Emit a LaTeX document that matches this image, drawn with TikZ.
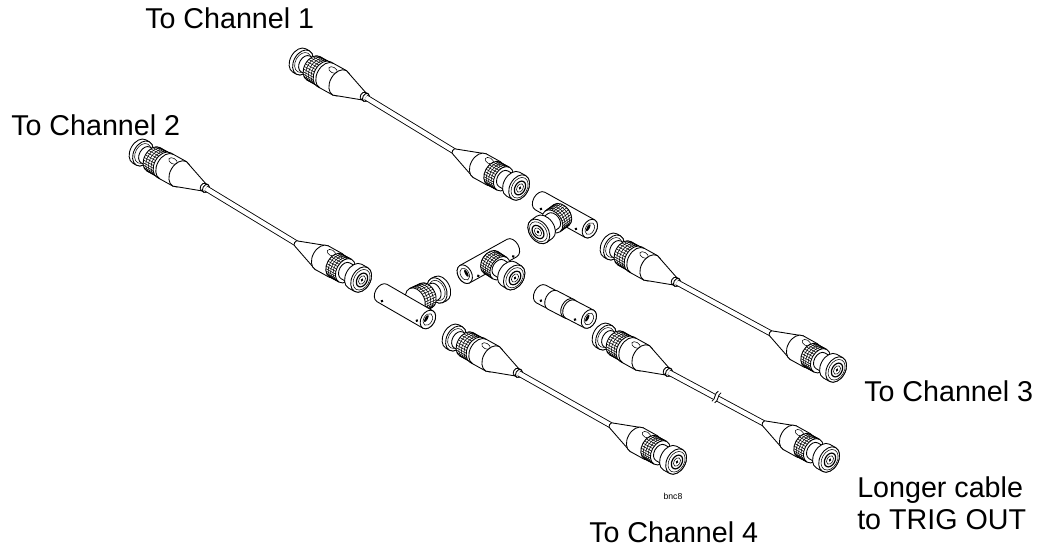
\documentclass[tikz,border=0pt]{standalone}
\usepackage{fontspec}
\setmainfont{Liberation Sans}
\tikzset{
  part/.style={draw=black,fill=white,line width=0.65pt,line join=round},
  fine/.style={draw=black,line width=0.4pt},
  lbl/.style={font=\fontsize{21.5}{26}\selectfont,inner sep=0pt,anchor=base west,align=left},
  coax/.style={draw=black,line width=0.65pt,double=white,double distance=3.3pt},
}
\newcommand\rr{.68}
% section of a cylinder or cone seen from the +x side
\newcommand\cysec[4]{\path[part] (#1,#2) arc[start angle=90,end angle=270,x radius={\rr*#2},y radius=#2] -- (#3,-#4) arc[start angle=-90,end angle=90,x radius={\rr*#4},y radius=#4] -- cycle;}
\newcommand\cyedge[2]{\draw[black,line width=0.65pt] (#1,#2) arc[start angle=90,end angle=270,x radius={\rr*#2},y radius=#2];}
\newcommand\cycap[2]{\path[part] (#1,0) ellipse[x radius={\rr*#2},y radius=#2];}
\newcommand\cyedgefine[2]{\draw[fine] ({#1},#2) arc[start angle=90,end angle=270,x radius={\rr*#2},y radius=#2];}
\newcommand\knurl[3]{%
  \cysec{#1}{#3}{#2}{#3}%
  \foreach \t in {-84,-72,...,84}{\draw[fine] ({#1-\rr*#3*cos(\t)},{#3*sin(\t)}) -- ({#2-\rr*#3*cos(\t)},{#3*sin(\t)});}%
  \foreach \u in {0.25,0.5,0.75}{\cyedgefine{#1+(#2-#1)*\u}{#3}}%
  \cyedge{#2}{#3}}
\newcommand\bump[2]{\path[fine] (#1,#2) ellipse[x radius=4.6,y radius=2.8];}
% open ring end, far from the viewer: x runs from the ring towards the viewer
\newcommand\ringend{%
  \cysec{-3}{13.4}{1}{13.4}\cycap{1}{13.4}%
  \draw[fine] (1,0) ellipse[x radius=7.4,y radius=10.6];
  \cysec{4}{9}{13}{9}%
  \knurl{13}{25}{13.4}}
% full BNC face at x=0, near the viewer
\newcommand\bncface{%
  \cysec{-19}{9}{-8}{9}%
  \cysec{-8}{13.6}{-1}{13.6}\cycap{-1}{13.6}%
  \draw[fine] (-.5,0) ellipse[x radius=7.6,y radius=11];
  \draw[black,line width=0.9pt] (0,0) ellipse[x radius=5,y radius=7.4];
  \draw[fine] (0,0) ellipse[x radius=3.1,y radius=4.6];
  \fill[black] (0,0) ellipse[x radius=1.2,y radius=1.8];}
\newcommand\leftconn[3]{%
  \begin{scope}[shift={(#2,-#3)},rotate=-29]
    \ringend
    \cysec{25}{14}{43}{14}\cyedge{28}{14}%
    \bump{31}{8}%
    \cysec{43}{14}{71}{4}%
    \cysec{70}{4}{73}{4.4}\cycap{73}{4.4}%
    \coordinate (#1) at (73,0);
  \end{scope}}
\newcommand\rightanchor[3]{\begin{scope}[shift={(#2,-#3)},rotate=-29]\coordinate (#1) at (-70,0);\end{scope}}
\newcommand\rightconn[2]{%
  \begin{scope}[shift={(#1,-#2)},rotate=-29]
    \cysec{-75}{3}{-46}{13.5}%
    \cysec{-46}{13.5}{-30}{13.5}%
    \bump{-40}{9}%
    \knurl{-30}{-19}{13}%
    \bncface
  \end{scope}}
% body of a tee: origin at the hidden end, x towards the open end
\newcommand\teebody[6]{%
  \begin{scope}[shift={(#1,-#2)},rotate=#3]
    \cysec{0}{10}{#4}{10}\cycap{#4}{10}%
    \draw[fine] (#4,0) ellipse[x radius=4.2,y radius=6.4];
    \fill[black] ({#4-1.8},0) ellipse[x radius=1.4,y radius=4];
    \fill[black] (#5) circle[radius=1.5] (#6) circle[radius=1.5];
  \end{scope}}
% branch of a tee with the full face towards the viewer
\newcommand\teebranch[3]{%
  \begin{scope}[shift={(#1,-#2)},rotate=#3]
    \cysec{-31}{10}{-29}{12}%
    \knurl{-29}{-18}{12.8}%
    \bncface
  \end{scope}}
\begin{document}
\begin{tikzpicture}[x=0.75pt,y=0.75pt]
\useasboundingbox (0,0) rectangle (1047,-548);
\fill[white] (0,0) rectangle (1047,-548);
% cable to channel 1
\leftconn{aL}{302}{62}
\rightanchor{aR}{520}{188}
\path[coax] (aL) -- (aR);
\rightconn{520}{188}
% cable to channel 2
\leftconn{bL}{142}{153}
\rightanchor{bR}{362}{280}
\path[coax] (bL) -- (bR);
\rightconn{362}{280}
% cable to channel 3
\leftconn{cL}{613}{247}
\rightanchor{cR}{837}{370}
\path[coax] (cL) -- (cR);
\rightconn{837}{370}
% cable to channel 4
\leftconn{dL}{455}{338}
\rightanchor{dR}{677}{462}
\path[coax] (dL) -- (dR);
\rightconn{677}{462}
% longer cable
\leftconn{eL}{605}{337}
\rightanchor{eR}{830}{460}
\path[coax] (eL) -- (eR);
\rightconn{830}{460}
\begin{scope}[shift={(716.5,-397)},rotate=-29]
  \fill[white] (-2,-5) rectangle (2,5);
  \draw[black,line width=0.65pt] (-2,-6) .. controls (0.5,-3) and (-4,3) .. (-1.2,6);
  \draw[black,line width=0.65pt] (1.2,-6) .. controls (4,-3) and (-0.5,3) .. (2,6);
\end{scope}
% tee at the top
\teebody{540}{201}{-29}{57}{4.7,-6.5}{45,-7}
\teebranch{538}{232}{216}
% tee in the middle
\teebody{512}{248}{209}{54}{3,8}{43,8}
\teebranch{515}{278}{-33}
% tee at the left
\begin{scope}[shift={(438,-290)},rotate=205]
  \ringend
\end{scope}
\teebody{382}{293}{-30}{53}{4,-7}{44,-6.5}
% barrel
\begin{scope}[shift={(541,-294)},rotate=-27.5]
  \cysec{0}{10}{13}{10}%
  \cysec{13}{10.3}{31}{10.3}%
  \cysec{31}{10.3}{33}{10.3}%
  \cysec{33}{10}{54}{10}\cycap{54}{10}%
  \draw[fine] (54,0) ellipse[x radius=4.2,y radius=6.4];
  \fill[black] (52.2,0) ellipse[x radius=1.4,y radius=4];
  \fill[black] (3,-6) circle[radius=1.5] (42,-7) circle[radius=1.5];
\end{scope}
% labels
\node[lbl] (t1) at (145,-29) {To Channel 1};
\node[lbl] (t2) at (11,-136) {To Channel 2};
\node[lbl] (t3) at (864,-402) {To Channel 3};
\node[lbl] (t4) at (589,-543) {To Channel 4};
\node[lbl] (t5) at (857,-498) {Longer cable};
\node[lbl] (t6) at (857,-530) {to TRIG OUT};
\node[inner sep=0pt,font=\fontsize{6.5}{7}\selectfont] (t7) at (673,-496) {bnc8};
\end{tikzpicture}
\end{document}
